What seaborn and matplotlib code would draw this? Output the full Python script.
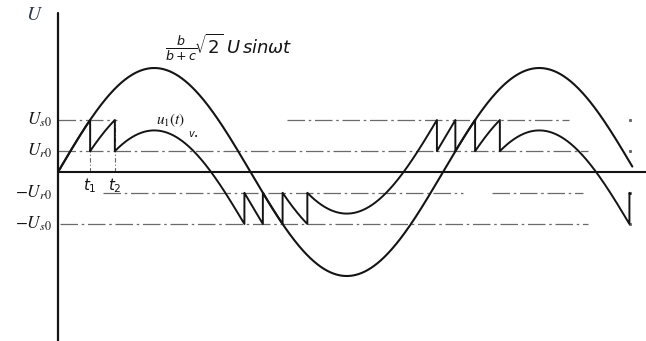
import numpy as np
import pandas as pd
import matplotlib
matplotlib.use("Agg")
import matplotlib.pyplot as plt
import seaborn as sns

# Electrical angle ωt in degrees; voltages normalised to the source amplitude
source_amplitude = 1.0      # b/(b+c)·√2·U
U_s0 = 0.50                 # breakdown (spark-over) level
U_r0 = 0.20                 # residual level after breakdown
theta_source_end = 537.0
theta_u1_end = 535.0

level_values = [U_s0, U_r0, -U_r0, -U_s0]
level_labels = [r"$U_{s0}$", r"$U_{r0}$", r"$-U_{r0}$", r"$-U_{s0}$"]

# Source voltage
theta = np.linspace(0.0, theta_source_end, 1500)
source = source_amplitude * np.sin(np.radians(theta))
df_source = pd.DataFrame({"theta": theta, "u": source})

# u1(t): follows the source minus an accumulated charge offset;
# reaching ±U_s0 makes it jump back to ±U_r0.
step = U_s0 - U_r0
offset = 0.0
u1_theta, u1_val, jumps = [], [], []
for th in np.arange(0.0, theta_u1_end, 0.05):
    u = source_amplitude * np.sin(np.radians(th)) - offset
    if u >= U_s0:
        u1_theta += [th, th]
        u1_val += [U_s0, U_r0]
        jumps.append(th)
        offset += step
        continue
    if u <= -U_s0:
        u1_theta += [th, th]
        u1_val += [-U_s0, -U_r0]
        jumps.append(th)
        offset -= step
        continue
    u1_theta.append(th)
    u1_val.append(u)
df_u1 = pd.DataFrame({"theta": u1_theta, "u": u1_val})

sns.set_theme(style="white")
plt.rcParams["mathtext.fontset"] = "stix"

fig = plt.figure(figsize=(6.46, 3.41), dpi=100)
ax = fig.add_axes([0, 0, 1, 1])
ax.set_xlim(-54.23, 549.8)
ax.set_ylim(-1.625, 1.654)
ax.set_axis_off()

ink = "#141414"
guide = "#6a6a6a"
dashdot = (0, (14, 3, 2, 3))

# Level guide lines (dash-dot)
guide_spans = {
    U_s0: [(0.0, 55.2), (214.0, 478.0)],
    U_r0: [(0.0, 495.6)],
    -U_r0: [(42.0, 378.7), (405.8, 490.9)],
    -U_s0: [(1.5, 495.6)],
}
for lvl, spans in guide_spans.items():
    for a, b in spans:
        ax.plot([a, b], [lvl, lvl], color=guide, lw=0.9, ls=dashdot)
    ax.plot([534.8], [lvl], marker="s", ms=1.2, color=guide)

# Markers for t1, t2
for th in jumps[:2]:
    ax.plot([th, th], [0, U_s0], color=guide, lw=0.8, ls=(0, (4, 2, 1, 2)))

# Axes
ax.plot([0.0, 549.8], [0, 0], color=ink, lw=1.5)
ax.plot([0, 0], [-1.625, 1.53], color=ink, lw=1.6)

# Curves
sns.lineplot(data=df_source, x="theta", y="u", ax=ax, color=ink, lw=1.5,
             estimator=None, sort=False)
sns.lineplot(data=df_u1, x="theta", y="u", ax=ax, color=ink, lw=1.4,
             estimator=None, sort=False)

# Level labels on the left
ytrans = ax.get_yaxis_transform()
for val, lab in zip(level_values, level_labels):
    ax.text(0.081, val, lab, transform=ytrans, ha="right", va="center",
            fontsize=12.5, color=ink)

ax.text(0.053, 0.958, r"$U$", transform=ax.transAxes, ha="center",
        va="center", fontsize=14, color="#2f3a48")

ax.text(0.255, 0.862, r"$\frac{b}{b+c}\!\sqrt{2}\;U\,sin\omega t$",
        transform=ax.transAxes, ha="left", va="center", fontsize=13,
        color=ink, math_fontfamily="dejavusans")

ax.text(105.7, 0.50, r"$u_1(t)$", ha="center", va="center", fontsize=11,
        color=ink)
ax.text(127.0, 0.37, r"$v_{\bullet}$", ha="center", va="center", fontsize=7,
        color=ink, math_fontfamily="dejavusans")

for th, lab in zip(jumps[:2], [r"$t_1$", r"$t_2$"]):
    ax.text(th, -0.13, lab, ha="center", va="center", fontsize=11,
            color=ink, math_fontfamily="dejavusans")

fig.savefig("out.png", dpi=100, facecolor="white")
